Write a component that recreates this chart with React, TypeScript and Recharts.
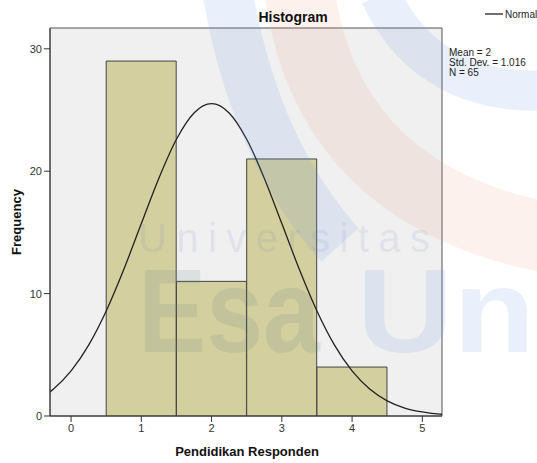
import React from "react";
import {
  ComposedChart,
  Bar,
  Line,
  XAxis,
  YAxis,
  CartesianGrid,
} from "recharts";

// histogram bins (Pendidikan Responden)
const binCenters = [1, 2, 3, 4];
const frequencies = [29, 11, 21, 4];

// normal curve (mean 2, sd 1.016, N 65)
const curveX = [-0.3, -0.25, 0, 0.25, 0.5, 0.75, 1, 1.25, 1.5, 1.75, 2, 2.25, 2.5, 2.75, 3, 3.25, 3.5, 3.75, 4, 4.25, 4.5, 4.75, 5, 5.25, 5.28];
const curveY = [1.97, 2.2, 3.68, 5.79, 8.58, 11.97, 15.72, 19.43, 22.61, 24.76, 25.52, 24.76, 22.61, 19.43, 15.72, 11.97, 8.58, 5.79, 3.68, 2.2, 1.24, 0.65, 0.33, 0.15, 0.14];

const xTicks = [0, 1, 2, 3, 4, 5];
const yTicks = [0, 10, 20, 30];
const statLines = ["Mean = 2", "Std. Dev. = 1.016", "N = 65"];

const binData = binCenters.map((x, i) => ({ x, freq: frequencies[i] }));
const curveData = curveX.map((x, i) => ({ x, normal: curveY[i] }));

const FONT = "'Liberation Sans', Arial, sans-serif";
const W = 537;
const H = 463;
const MARGIN = { top: 28, right: 95, bottom: 0, left: 10 };
const X_DOMAIN = [-0.3, 5.28];
const Y_DOMAIN = [0, 31.7];

const App = () => {
  return (
    <div style={{ position: "absolute", left: 0, top: 0, width: W, height: H, background: "#fff" }}>
      <ComposedChart width={W} height={H} data={binData} margin={MARGIN}>
        <CartesianGrid
          fill="#f0f0f0"
          stroke="#555"
          strokeWidth={1}
          horizontalCoordinatesGenerator={({ offset }: any) => [offset.top, offset.top + offset.height]}
          verticalCoordinatesGenerator={({ offset }: any) => [offset.left, offset.left + offset.width]}
        />
        <XAxis
          dataKey="x"
          type="number"
          domain={X_DOMAIN}
          ticks={xTicks}
          allowDataOverflow
          height={47}
          tickSize={6}
          stroke="#333"
          tick={{ fill: "#333", fontSize: 11, fontFamily: FONT }}
        />
        <YAxis
          type="number"
          domain={Y_DOMAIN}
          ticks={yTicks}
          allowDataOverflow
          width={40}
          tickSize={6}
          stroke="#333"
          tick={{ fill: "#333", fontSize: 11, fontFamily: FONT }}
        />
        <Bar
          dataKey="freq"
          barSize={70}
          fill="#d3cf9f"
          stroke="#444"
          strokeWidth={1}
          isAnimationActive={false}
        />
      </ComposedChart>

      {/* normal curve, same plot box, drawn on top */}
      <div style={{ position: "absolute", left: 0, top: 0 }}>
        <ComposedChart width={W} height={H} data={curveData} margin={MARGIN}>
          <XAxis
            dataKey="x"
            type="number"
            domain={X_DOMAIN}
            allowDataOverflow
            height={47}
            tick={false}
            tickLine={false}
            axisLine={false}
          />
          <YAxis
            type="number"
            domain={Y_DOMAIN}
            allowDataOverflow
            width={40}
            tick={false}
            tickLine={false}
            axisLine={false}
          />
          <Line
            dataKey="normal"
            type="monotone"
            stroke="#222"
            strokeWidth={1.3}
            dot={false}
            isAnimationActive={false}
          />
        </ComposedChart>
      </div>

      <svg
        width={W}
        height={H}
        style={{ position: "absolute", left: 0, top: 0, pointerEvents: "none" }}
      >
        {/* faint university watermark */}
        <path d="M 228 -5 Q 255 150 340 245" fill="none" stroke="rgba(110,150,230,0.15)" strokeWidth={50} />
        <path d="M 300 -5 Q 330 200 560 240" fill="none" stroke="rgba(240,140,110,0.12)" strokeWidth={70} />
        <path d="M 380 -5 Q 430 100 560 90" fill="none" stroke="rgba(110,150,230,0.15)" strokeWidth={40} />
        <text x={138} y={252} fontFamily={FONT} fontSize={40} textLength={292} lengthAdjust="spacing" fill="rgba(110,140,190,0.15)">
          Universitas
        </text>
        <text x={138} y={352} fontFamily={FONT} fontSize={118} fontWeight="bold" textLength={182} lengthAdjust="spacingAndGlyphs" fill="rgba(90,130,130,0.14)">
          Esa
        </text>
        <text x={357} y={352} fontFamily={FONT} fontSize={118} fontWeight="bold" textLength={178} lengthAdjust="spacingAndGlyphs" fill="rgba(110,150,230,0.15)">
          Un
        </text>

        <text x={293} y={22} textAnchor="middle" fontFamily={FONT} fontSize={14} fontWeight="bold" fill="#111">
          Histogram
        </text>
        <line x1={485} y1={14} x2={503} y2={14} stroke="#222" strokeWidth={1.3} />
        <text x={505} y={18} fontFamily={FONT} fontSize={10} fill="#222">
          Normal
        </text>
        {statLines.map((s, i) => (
          <text key={s} x={449} y={56 + i * 10} fontFamily={FONT} fontSize={10} fill="#222">
            {s}
          </text>
        ))}
        <text x={247} y={456} textAnchor="middle" fontFamily={FONT} fontSize={13} fontWeight="bold" fill="#111">
          Pendidikan Responden
        </text>
        <text
          x={21}
          y={222}
          textAnchor="middle"
          fontFamily={FONT}
          fontSize={13}
          fontWeight="bold"
          fill="#111"
          transform="rotate(-90 21 222)"
        >
          Frequency
        </text>
      </svg>
    </div>
  );
};

export default App;
